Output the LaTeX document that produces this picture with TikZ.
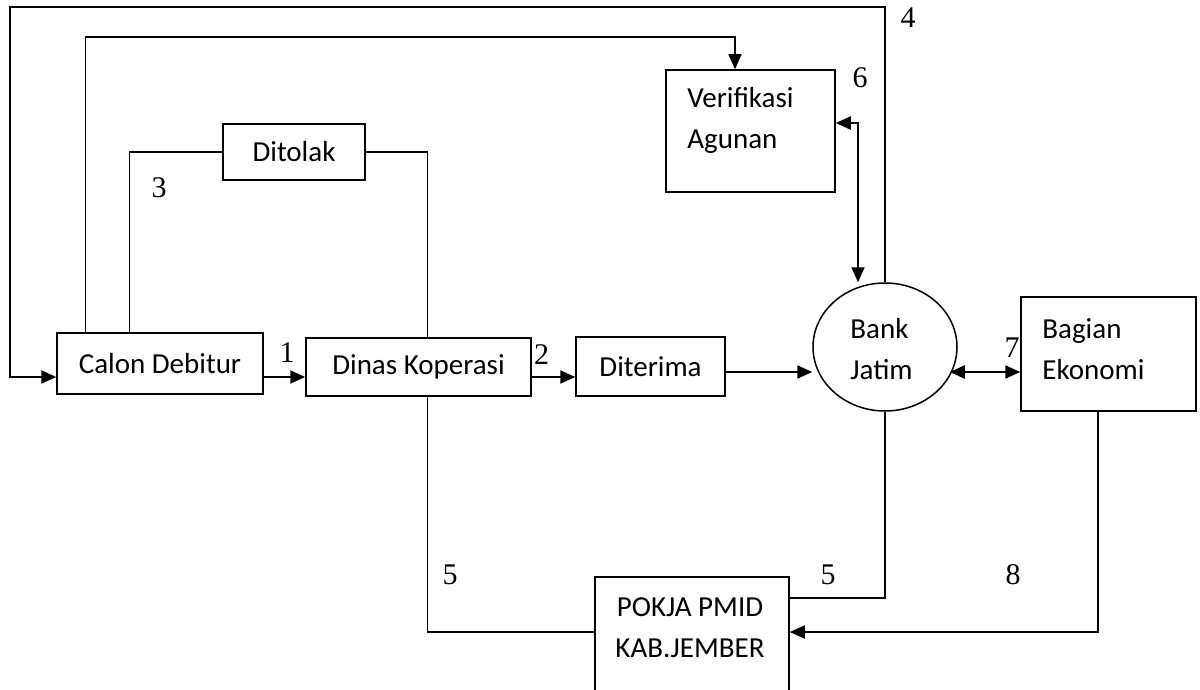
\documentclass[tikz,border=0pt]{standalone}
\usepackage{fontspec}
\newfontfamily\boxfont{Carlito}
\newfontfamily\numfont{Liberation Serif}
\usetikzlibrary{arrows.meta,shapes.geometric}
\begin{document}
\begin{tikzpicture}[x=0.5pt,y=-0.5pt,
  boxnode/.style={draw,line width=0.75pt,rectangle,inner sep=0pt,font=\boxfont\fontsize{14.5}{20.5}\selectfont},
  txt/.style={inner sep=0pt,align=left,font=\boxfont\fontsize{14.5}{20.5}\selectfont},
  num/.style={inner sep=0pt,font=\numfont\fontsize{15}{18}\selectfont},
  conn/.style={line width=0.7pt},
  arr/.style={line width=1pt,-{Triangle[length=7.5pt,width=6.5pt]}},
  arrthin/.style={line width=0.75pt,-{Triangle[length=7.5pt,width=6.5pt]}},
  arrtwo/.style={line width=1pt,{Triangle[length=7.5pt,width=6.5pt]}-{Triangle[length=7.5pt,width=6.5pt]}}]
\useasboundingbox[fill=white] (0,0) rectangle (1200,690);

% boxes
\node[boxnode,minimum width=103pt,minimum height=30.5pt] (calon) at (160,363.5) {Calon Debitur};
\node[boxnode,minimum width=112.5pt,minimum height=29pt] (dinas) at (418.5,367) {Dinas Koperasi};
\node[boxnode,minimum width=74.5pt,minimum height=29.5pt] (dit) at (650.5,366.5) {Diterima};
\node[boxnode,minimum width=71pt,minimum height=28pt] (tolak) at (294,152) {Ditolak};
\node[boxnode,minimum width=84.5pt,minimum height=61pt] (ver) at (750.5,131) {};
\node[txt,anchor=west] (vertxt) at (687,120) {Verifikasi\\Agunan};
\node[draw,line width=0.75pt,ellipse,inner sep=0pt,minimum width=72pt,minimum height=64pt] (bank) at (885,347) {};
\node[txt,anchor=west] (banktxt) at (850,349) {Bank\\Jatim};
\node[boxnode,minimum width=87.5pt,minimum height=57pt] (bag) at (1108.5,354) {};
\node[txt,anchor=west] (bagtxt) at (1042,349) {Bagian\\Ekonomi};
\node[boxnode,minimum width=97pt,minimum height=61.5pt] (pokja) at (692,638.5) {};
\node[txt,align=center] (pokjatxt) at (690,628) {POKJA PMID\\KAB.JEMBER};

% numbers
\node[num] (n4) at (908,18) {4};
\node[num] (n6) at (860,78) {6};
\node[num] (n3) at (159,188) {3};
\node[num] (n1) at (287,353) {1};
\node[num] (n2) at (541.5,355) {2};
\node[num] (n7) at (1012,348) {7};
\node[num] (n5a) at (450,575) {5};
\node[num] (n5b) at (828,575) {5};
\node[num] (n8) at (1013,575) {8};

% helper coordinates
\coordinate (c4) at (9.6,7);
\coordinate (y37) at (0,37);
\coordinate (calA) at ([xshift=14.5pt]calon.north west);
\coordinate (calB) at ([xshift=36.5pt]calon.north west);
\coordinate (verA) at ([xshift=-7.75pt]ver.north);
\coordinate (dinT) at ([xshift=4.5pt]dinas.north);
\coordinate (dinB) at ([xshift=4.5pt]dinas.south);
\coordinate (bagB) at ([xshift=-5.25pt]bag.south);
\coordinate (a0) at ([yshift=-6.75pt]calon.west);
\coordinate (a1) at ([yshift=-6.75pt]calon.east);
\coordinate (a2) at ([yshift=-5pt]dinas.east);
\coordinate (a3) at ([yshift=-2.75pt]dit.east);
\coordinate (a4) at ([yshift=-9pt]bag.west);
\coordinate (a4b) at (a4 -| bank.east);
\coordinate (a5) at ([yshift=4pt]ver.east);
\coordinate (a5b) at ([xshift=-13.5pt]bank.north);

% connectors
\draw[arr] (bank.north) |- (c4) |- (a0);
\draw[arrthin] (calA) |- (verA |- y37) -- (verA);
\draw[conn] (calB) |- (tolak.west);
\draw[conn] (tolak.east) -| (dinT);
\draw[arr] (a1) -- (a1 -| dinas.west);
\draw[arr] (a2) -- (a2 -| dit.west);
\draw[arr] (a3) -- (a3 -| bank.west);
\draw[arrtwo] ([xshift=-4pt]a4b) -- (a4);
\draw[arrtwo] (a5) -| (a5b);
\draw[conn] (dinB) |- ([yshift=3.25pt]pokja.west);
\draw[conn] (bank.south) |- ([yshift=20.25pt]pokja.east);
\draw[arr] (bagB) |- ([yshift=3.25pt]pokja.east);
\end{tikzpicture}
\end{document}
